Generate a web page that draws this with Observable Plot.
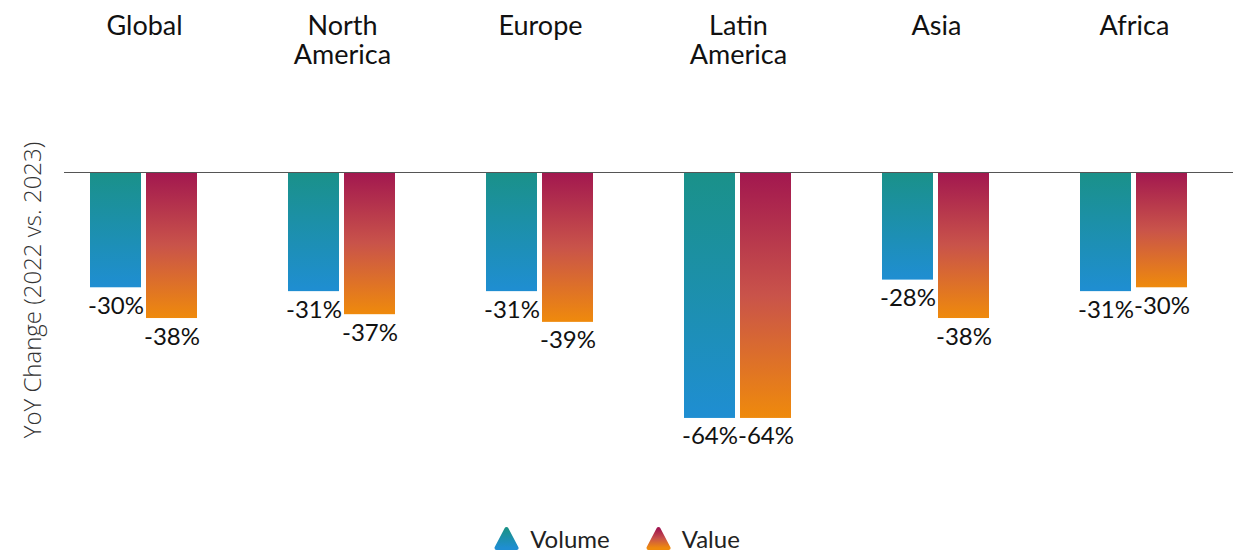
<!DOCTYPE html>
<html>
<head>
<meta charset="utf-8">
<script src="https://cdn.jsdelivr.net/npm/d3@7"></script>
<script src="https://cdn.jsdelivr.net/npm/@observablehq/plot@0.6"></script>
<style>
  html, body { margin: 0; padding: 0; background: #fff; overflow: hidden; }
  #wrap { position: relative; width: 1234px; height: 552px; font-family: Lato, "Open Sans", sans-serif; }
  #ylabel { position: absolute; left: 31px; top: 290px; transform: translate(-50%, -50%) rotate(-90deg);
            white-space: nowrap; font-family: "Open Sans", sans-serif; font-weight: 300; font-size: 24px; color: #333; }
  #legend { display: flex; justify-content: center; align-items: center; height: 28px; padding-left: 0px;
            font-family: Lato, sans-serif; font-size: 24px; color: #222; }
  .item { display: flex; align-items: center; margin: 0 18px; }
  .item svg { margin-right: 11px; }
</style>
</head>
<body>
<svg width="0" height="0" style="position:absolute">
  <defs>
    <linearGradient id="gVol" x1="0" y1="0" x2="0" y2="1">
      <stop offset="0" stop-color="#1a9189"/>
      <stop offset="1" stop-color="#1f8ed2"/>
    </linearGradient>
    <linearGradient id="gVal" x1="0" y1="0" x2="0" y2="1">
      <stop offset="0" stop-color="#a2174f"/>
      <stop offset="0.5" stop-color="#c9534a"/>
      <stop offset="1" stop-color="#ef8a0c"/>
    </linearGradient>
  </defs>
</svg>
<div id="wrap">
  <div id="chart"></div>
  <div id="legend"></div>
  <div id="ylabel"></div>
</div>
<script>
const regions = ["Global", "North America", "Europe", "Latin America", "Asia", "Africa"];
const regionTitles = ["Global", "North\nAmerica", "Europe", "Latin\nAmerica", "Asia", "Africa"];
const series = ["Volume", "Value"];
const volumeChange = [-30, -31, -31, -64, -28, -31];
const valueChange = [-38, -37, -39, -64, -38, -30];
const yLabel = "YoY Change (2022 vs. 2023)";
const gradients = ["url(#gVol)", "url(#gVal)"];

const data = [];
regions.forEach((r, i) => {
  data.push({region: r, series: "Volume", value: volumeChange[i]});
  data.push({region: r, series: "Value", value: valueChange[i]});
});
const titleData = regions.map((r, i) => ({region: r, title: regionTitles[i]}));

const chart = Plot.plot({
  width: 1234,
  height: 524,
  marginTop: 172,
  marginBottom: 83,
  marginLeft: 44,
  marginRight: 0,
  style: {fontFamily: "Lato, sans-serif", background: "transparent"},
  fx: {domain: regions, padding: 0, axis: null},
  x: {domain: series, paddingInner: 0.0877, paddingOuter: 0.784, axis: null},
  y: {domain: [-70, 0], axis: null},
  color: {type: "ordinal", domain: series, range: gradients},
  marks: [
    Plot.barY(data, {fx: "region", x: "series", y: "value", fill: "series"}),
    Plot.ruleY(regions.slice(1), {fx: d => d, y: () => 0, stroke: "#555", strokeWidth: 1}),
    Plot.ruleY(regions.slice(0, 1), {fx: d => d, y: () => 0, stroke: "#555", strokeWidth: 1, insetLeft: 19}),
    Plot.text(data, {fx: "region", x: "series", y: "value", text: d => d.value + "%",
      lineAnchor: "top", dy: 9, fontSize: 24, fill: "#111"}),
    Plot.text(titleData, {fx: "region", text: "title", frameAnchor: "top", lineAnchor: "top",
      dy: -158, fontSize: 27, lineHeight: 1.08, fill: "#111"})
  ]
});
document.getElementById("chart").appendChild(chart);
document.getElementById("ylabel").textContent = yLabel;

const legend = document.getElementById("legend");
series.forEach((s, i) => {
  const item = document.createElement("div");
  item.className = "item";
  item.innerHTML = `<svg width="25" height="25" viewBox="0 0 25 25">
    <polygon points="12.5,3 22.5,22 2.5,22" fill="${gradients[i]}" stroke="${gradients[i]}" stroke-width="4" stroke-linejoin="round"/>
  </svg><span></span>`;
  item.querySelector("span").textContent = s;
  legend.appendChild(item);
});
</script>
</body>
</html>
